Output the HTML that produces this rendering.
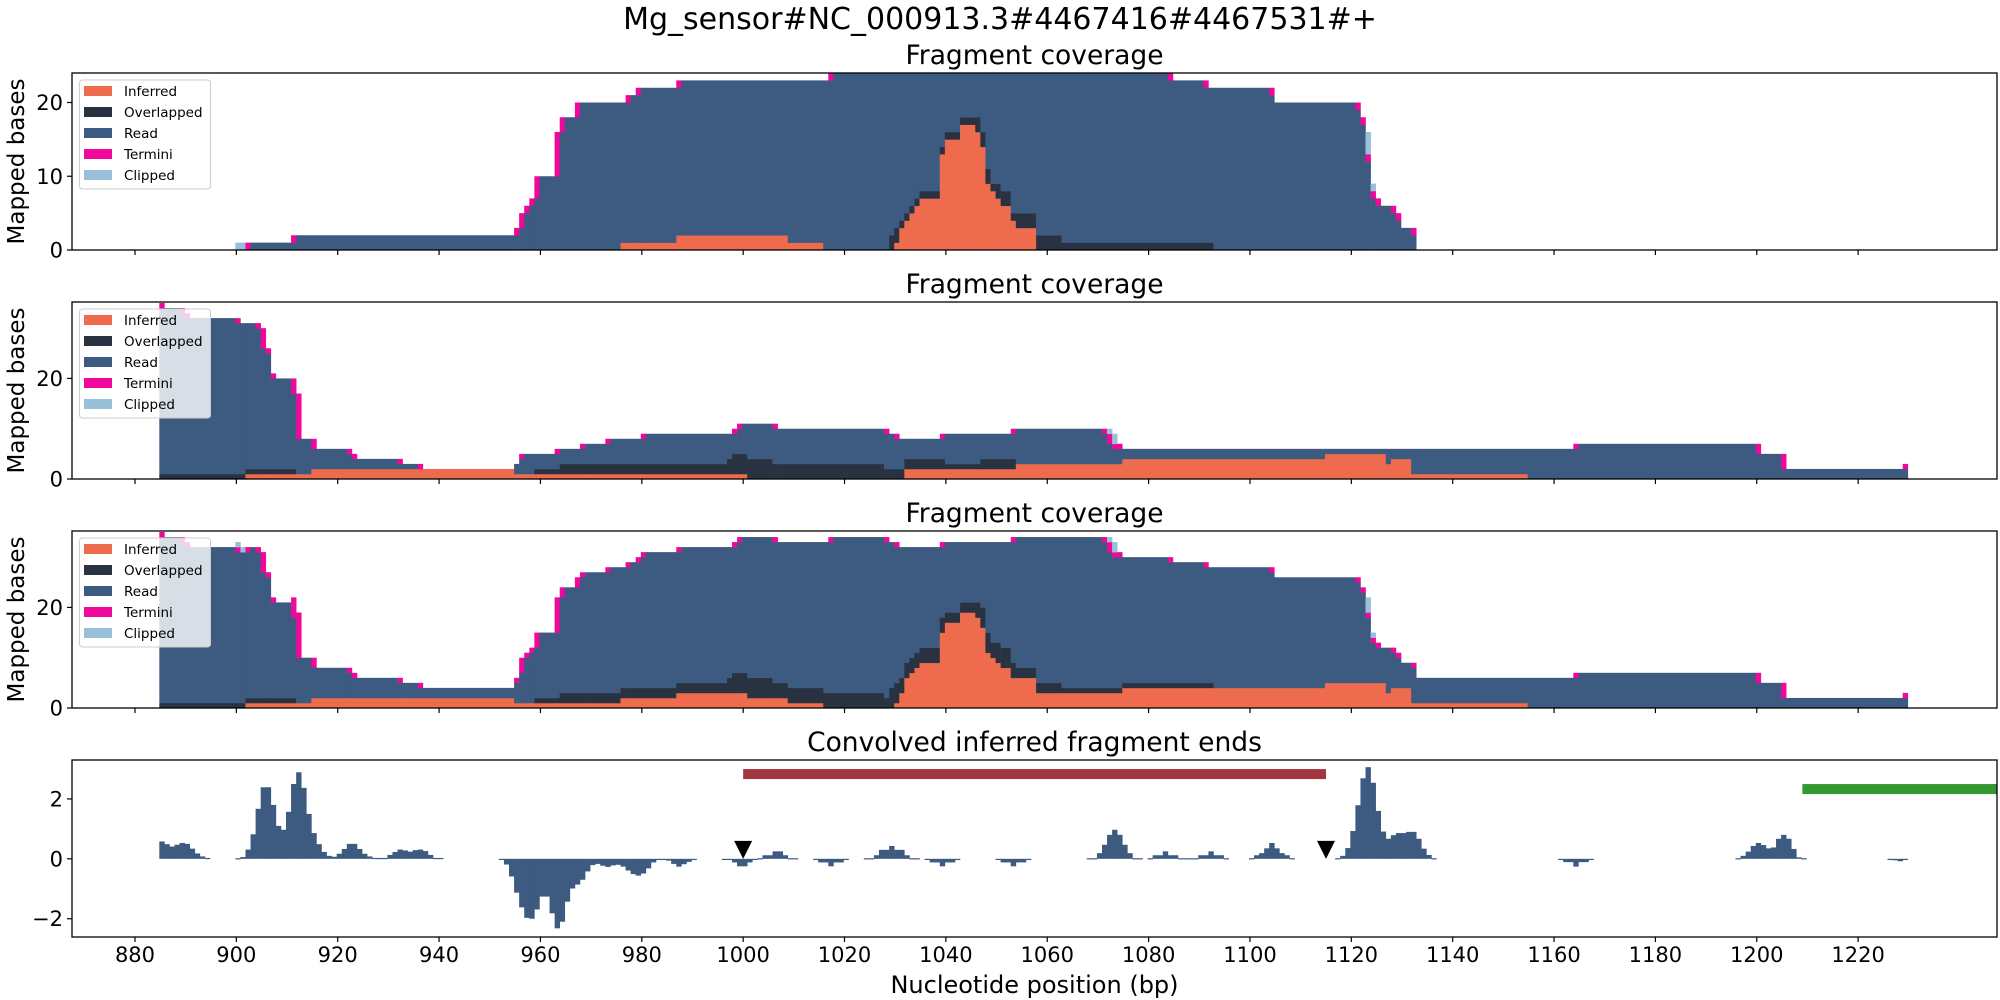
<!DOCTYPE html>
<html><head><meta charset="utf-8"><style>
html,body{margin:0;padding:0;background:#fff;}
svg{display:block;font-family:"DejaVu Sans","Liberation Sans",sans-serif;}
</style></head><body>
<svg id="fig" width="2000" height="1000" viewBox="0 0 2000 1000" xmlns="http://www.w3.org/2000/svg">
<rect x="0" y="0" width="2000" height="1000" fill="#fff"/>
<text x="1000" y="29" font-size="30" text-anchor="middle">Mg_sensor#NC_000913.3#4467416#4467531#+</text>
</svg>
<script>
// ---- data: coverage panel 1 (runs: start bp, end bp, value) ----
const p1Total=[[900,910,1],[911,954,2],[955,955,3],[956,956,5],[957,957,6],[958,958,7],[959,962,10],[963,963,16],[964,966,18],[967,976,20],[977,978,21],[979,986,22],[987,1016,23],[1017,1084,24],[1085,1091,23],[1092,1104,22],[1105,1121,20],[1122,1122,18],[1123,1123,16],[1124,1124,9],[1125,1125,7],[1126,1128,6],[1129,1129,5],[1130,1132,3]];
const p1Inferred=[[976,986,1],[987,1008,2],[1009,1015,1],[1030,1030,1],[1031,1031,3],[1032,1032,4],[1033,1033,5],[1034,1034,6],[1035,1038,7],[1039,1039,13],[1040,1042,15],[1043,1045,17],[1046,1046,16],[1047,1047,14],[1048,1048,9],[1049,1049,8],[1050,1050,7],[1051,1052,6],[1053,1053,4],[1054,1057,3]];
const p1Overlap=[[1029,1030,2],[1031,1045,1],[1046,1048,2],[1049,1049,1],[1050,1052,2],[1053,1053,1],[1054,1062,2],[1063,1092,1]];
const p1Termini=[[902,902,1],[911,911,1],[955,955,1],[956,956,2],[957,958,1],[959,959,3],[963,963,6],[964,964,2],[967,967,2],[977,977,1],[979,979,1],[987,987,1],[1017,1017,1],[1084,1084,1],[1091,1091,1],[1104,1104,1],[1121,1125,1],[1128,1129,1],[1132,1132,1]];
const p1Clipped=[[900,901,1],[1123,1123,3],[1124,1124,1]];
// ---- data: coverage panel 2 ----
const p2Total=[[885,885,35],[886,889,34],[890,890,33],[891,900,32],[901,904,31],[905,905,30],[906,906,26],[907,907,21],[908,911,20],[912,912,17],[913,915,8],[916,922,6],[923,923,5],[924,932,4],[933,936,3],[937,954,2],[955,955,3],[956,962,5],[963,967,6],[968,972,7],[973,979,8],[980,997,9],[998,998,10],[999,1006,11],[1007,1028,10],[1029,1030,9],[1031,1038,8],[1039,1052,9],[1053,1072,10],[1073,1073,9],[1074,1074,7],[1075,1163,6],[1164,1200,7],[1201,1205,5],[1206,1228,2],[1229,1229,3]];
const p2Inferred=[[902,914,1],[915,954,2],[955,1000,1],[1032,1053,2],[1054,1074,3],[1075,1114,4],[1115,1126,5],[1127,1127,3],[1128,1131,4],[1132,1154,1]];
const p2Overlap=[[885,911,1],[959,963,1],[964,996,2],[997,997,3],[998,1005,4],[1006,1027,3],[1028,1039,2],[1040,1046,1],[1047,1053,2]];
const p2Termini=[[885,885,1],[889,890,1],[900,900,1],[904,904,1],[905,905,4],[906,907,1],[911,911,3],[912,912,9],[915,915,2],[922,923,1],[932,932,1],[936,936,1],[956,956,1],[963,963,1],[968,968,1],[973,973,1],[980,980,1],[998,999,1],[1006,1006,1],[1028,1028,1],[1030,1030,1],[1039,1039,1],[1053,1053,1],[1071,1071,1],[1072,1072,2],[1073,1074,1],[1164,1164,1],[1200,1200,2],[1205,1205,3],[1229,1229,1]];
const p2Clipped=[[1072,1072,1],[1073,1073,2]];
// ---- data: convolved inferred fragment ends ----
const p4Positions=[885,886,887,888,889,890,891,892,893,894,900,901,902,903,904,905,906,907,908,909,910,911,912,913,914,915,916,917,918,919,920,921,922,923,924,925,926,927,928,929,930,931,932,933,934,935,936,937,938,939,940,952,953,954,955,956,957,958,959,960,961,962,963,964,965,966,967,968,969,970,971,972,973,974,975,976,977,978,979,980,981,982,983,984,985,986,987,988,989,990,996,997,998,999,1000,1001,1002,1003,1004,1005,1006,1007,1008,1009,1010,1014,1015,1016,1017,1018,1019,1020,1024,1025,1026,1027,1028,1029,1030,1031,1032,1033,1034,1036,1037,1038,1039,1040,1041,1042,1050,1051,1052,1053,1054,1055,1056,1068,1069,1070,1071,1072,1073,1074,1075,1076,1077,1078,1080,1081,1082,1083,1084,1085,1086,1087,1088,1089,1090,1091,1092,1093,1094,1095,1100,1101,1102,1103,1104,1105,1106,1107,1108,1117,1118,1119,1120,1121,1122,1123,1124,1125,1126,1127,1128,1129,1130,1131,1132,1133,1134,1135,1136,1161,1162,1163,1164,1165,1166,1167,1196,1197,1198,1199,1200,1201,1202,1203,1204,1205,1206,1207,1208,1209,1226,1227,1228,1229];
const p4Values=[.58,.49,.41,.47,.53,.5,.34,.18,.08,.03,.02,.06,.31,.82,1.67,2.39,2.39,1.8,1.1,.97,1.57,2.5,2.89,2.37,1.5,.86,.49,.23,.1,.07,.17,.33,.5,.5,.33,.17,.08,.03,.03,.03,.13,.23,.31,.28,.24,.29,.31,.26,.13,.03,.03,-.02,-.19,-.59,-1.13,-1.62,-1.97,-2.0,-1.69,-1.26,-1.26,-1.82,-2.32,-2.1,-1.43,-.99,-.86,-.7,-.42,-.21,-.17,-.23,-.27,-.22,-.2,-.26,-.39,-.51,-.56,-.49,-.32,-.12,-.02,-.02,-.06,-.17,-.26,-.18,-.1,-.02,-.02,-.02,-.12,-.25,-.25,-.12,-.02,.02,.12,.12,.25,.25,.12,.02,.02,-.02,-.12,-.12,-.25,-.12,-.12,-.02,.02,.02,.12,.3,.3,.43,.3,.3,.12,.02,.02,-.02,-.12,-.12,-.25,-.12,-.12,-.02,-.02,-.12,-.12,-.25,-.12,-.12,-.02,.02,.02,.19,.47,.8,.97,.8,.47,.19,.02,.02,.02,.12,.12,.25,.12,.12,.02,.02,.02,.02,.12,.12,.25,.12,.12,.02,.02,.12,.19,.35,.53,.35,.19,.12,.02,.02,.1,.36,.93,1.79,2.69,3.06,2.54,1.6,.91,.67,.79,.86,.86,.9,.9,.67,.34,.13,.02,-.02,-.11,-.11,-.26,-.11,-.11,-.02,.02,.1,.24,.43,.53,.46,.35,.38,.67,.8,.67,.33,.05,.02,-.02,-.05,-.08,-.02];
const regionRed=[1000,1115,2.83];
const regionGreen=[1209,1260,2.33];
const markerPositions=[1000,1115];
const xTicks=[880,900,920,940,960,980,1000,1020,1040,1060,1080,1100,1120,1140,1160,1180,1200,1220];
const covTicks=[[0,10,20],[0,20],[0,20]];
const covYMax=[24.0,35.2,35.2];
const p4Ticks=[-2,0,2];
const legendLabels=['Inferred','Overlapped','Read','Termini','Clipped'];

const C={inf:'#ee6c4d',ovl:'#293241',read:'#3d5a80',term:'#f0079b',clip:'#98c1d9'};
const layerColors=[C.inf,C.ovl,C.read,C.term,C.clip];
const NS='http://www.w3.org/2000/svg';
const svg=document.getElementById('fig');
const X0=867.57,X1=1247.4,AL=72,AR=1997,H=177;
const tops=[73,302,531,760];
function sx(v){return AL+(v-X0)*(AR-AL)/(X1-X0);}
function mk(tag,attrs,parent){const e=document.createElementNS(NS,tag);for(const k in attrs)e.setAttribute(k,attrs[k]);(parent||svg).appendChild(e);return e;}
function expand(runs){const m={};runs.forEach(r=>{for(let b=r[0];b<=r[1];b++)m[b]=(m[b]||0)+r[2];});return m;}

const clipDefs=mk('defs',{});
tops.forEach((t,i)=>{const cp=mk('clipPath',{id:'cp'+i},clipDefs);mk('rect',{x:AL,y:t,width:AR-AL,height:H},cp);});

function layersFor(T,I,O,Tm,Cl){
  const out={};
  for(let b=880;b<=1240;b++){
    const tot=T[b]||0; if(!tot) continue;
    const i=I[b]||0,o=O[b]||0,t=Tm[b]||0,c=Cl[b]||0;
    out[b]=[i,o,Math.max(0,tot-i-o-t-c),t,c];
  }
  return out;
}
const L1=layersFor(expand(p1Total),expand(p1Inferred),expand(p1Overlap),expand(p1Termini),expand(p1Clipped));
const L2=layersFor(expand(p2Total),expand(p2Inferred),expand(p2Overlap),expand(p2Termini),expand(p2Clipped));
const L3={};
for(let b=880;b<=1240;b++){if(L1[b]||L2[b]){const a=L1[b]||[0,0,0,0,0],c=L2[b]||[0,0,0,0,0];L3[b]=a.map((v,k)=>v+c[k]);}}
const allLayers=[L1,L2,L3];

function drawCoverage(pi){
  const top=tops[pi],ymax=covYMax[pi],L=allLayers[pi];
  const sy=v=>top+H-v*H/ymax;
  const g=mk('g',{'clip-path':'url(#cp'+pi+')'});
  
  
  const keys=Object.keys(L).map(Number).sort((a,b)=>a-b);
  let k=0;
  while(k<keys.length){
    let s=keys[k],e=s,cur=L[s].join(',');
    while(k+1<keys.length&&keys[k+1]===e+1&&L[keys[k+1]].join(',')===cur){k++;e=keys[k];}
    let base=0;
    L[s].forEach((v,li)=>{
      if(v>0){
        const r=mk('rect',{x:sx(s-0.2),width:sx(e+0.8)-sx(s-0.2)+0.3,y:sy(base+v),height:sy(base)-sy(base+v)+0.3,fill:layerColors[li]},g);
        
        
      }
      base+=v;
    });
    k++;
  }
  covTicks[pi].forEach(t=>{
    mk('line',{x1:AL-5,x2:AL,y1:sy(t),y2:sy(t),stroke:'#000','stroke-width':1.2});
    const tx=mk('text',{x:AL-9,y:sy(t)+7.5,'font-size':21,'text-anchor':'end'});tx.textContent=t;
    
    
  });
  const yl=mk('text',{x:0,y:0,'font-size':23,'text-anchor':'middle',transform:`translate(24,${top+H/2}) rotate(-90)`});
  yl.textContent='Mapped bases';
  
  
  const ti=mk('text',{x:(AL+AR)/2,y:top-9,'font-size':26.5,'text-anchor':'middle'});
  ti.textContent='Fragment coverage';
  
  
  const lg=mk('g',{});
  
  
  mk('rect',{x:79.5,y:top+7,width:131,height:109,rx:3,fill:'#fff','fill-opacity':0.8,stroke:'#ccc','stroke-width':1},lg);
  legendLabels.forEach((lab,li)=>{
    const cy=top+18+li*21;
    mk('rect',{x:84,y:cy-5,width:28,height:10,fill:layerColors[li]},lg);
    const t=mk('text',{x:124,y:cy+5,'font-size':13.5},lg);t.textContent=lab;
    
    
  });
}
[0,1,2].forEach(drawCoverage);

(function(){
  const top=tops[3],ymin=-2.61,ymax=3.30;
  const sy=v=>top+(ymax-v)*H/(ymax-ymin);
  const g=mk('g',{'clip-path':'url(#cp3)'});
  
  
  p4Positions.forEach((p,i)=>{
    const v=p4Values[i];
    const y0=sy(0),y1=sy(v);
    const r=mk('rect',{x:sx(p-0.2),width:sx(p+0.8)-sx(p-0.2)+0.3,y:Math.min(y0,y1),height:Math.max(1.2,Math.abs(y1-y0)),fill:C.read},g);
    
    
  });
  const red=mk('rect',{x:sx(regionRed[0]),width:sx(regionRed[1])-sx(regionRed[0]),y:sy(regionRed[2])-5,height:10,fill:'#a4343f'},g);
  
  
  const gr=mk('rect',{x:sx(regionGreen[0]),width:sx(regionGreen[1])-sx(regionGreen[0]),y:sy(regionGreen[2])-5,height:10,fill:'#339933'},g);
  
  
  markerPositions.forEach(p=>{
    const cx=sx(p),ty=sy(0);
    const m=mk('polygon',{points:`${cx-9},${ty-18} ${cx+9},${ty-18} ${cx},${ty}`,fill:'#000'});
    
    
  });
  p4Ticks.forEach(t=>{
    mk('line',{x1:AL-5,x2:AL,y1:sy(t),y2:sy(t),stroke:'#000','stroke-width':1.2});
    const tx=mk('text',{x:AL-9,y:sy(t)+7.5,'font-size':21,'text-anchor':'end'});tx.textContent=(t<0?'\u2212'+(-t):t);
    
    
  });
  const ti=mk('text',{x:(AL+AR)/2,y:top-9,'font-size':26.5,'text-anchor':'middle'});
  ti.textContent='Convolved inferred fragment ends';
  
  
})();

tops.forEach((t,i)=>{
  const f=mk('rect',{x:AL,y:t,width:AR-AL,height:H,fill:'none',stroke:'#000','stroke-width':1.3});
  
  
  xTicks.forEach(v=>{mk('line',{x1:sx(v),x2:sx(v),y1:t+H,y2:t+H+5,stroke:'#000','stroke-width':1.2});});
});
xTicks.forEach(v=>{
  const tx=mk('text',{x:sx(v),y:962,'font-size':21,'text-anchor':'middle'});tx.textContent=v;
  
  
});
const xl=mk('text',{x:(AL+AR)/2,y:993,'font-size':24,'text-anchor':'middle'});
xl.textContent='Nucleotide position (bp)';


</script>
</body></html>
